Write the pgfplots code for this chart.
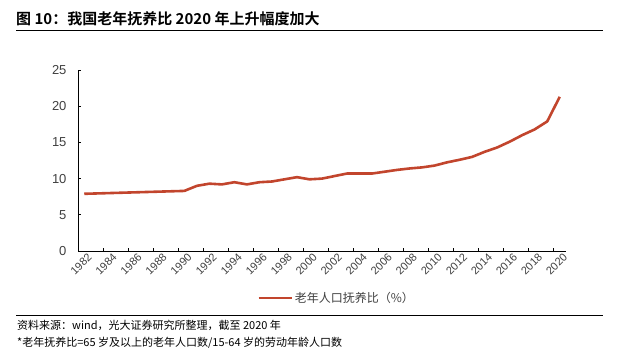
\documentclass[border=0pt]{standalone}
\usepackage{fontspec}
\usepackage{pgfplots}
\pgfplotsset{compat=1.18}
\setmainfont{Liberation Sans}
\newfontfamily\cjk[BoldFont={Noto Sans CJK SC Bold}]{Noto Sans CJK SC}
\definecolor{lineR}{HTML}{C2452D}
\definecolor{txt}{HTML}{404040}
\begin{document}
\begin{tikzpicture}[x=1pt,y=1pt]
\useasboundingbox (0,0) rectangle (640,360);
\node[anchor=west, inner sep=0pt, font=\cjk\bfseries\fontsize{15}{15}\selectfont] at (16,341) {图 10：我国老年抚养比 2020 年上升幅度加大};
\draw[line width=1pt] (16,329.5) -- (603,329.5);
\draw[line width=0.8pt] (16,45) -- (603,45);
\node[anchor=west, inner sep=0pt, font=\cjk\fontsize{11}{11}\selectfont] at (17,35) {资料来源：wind，光大证券研究所整理，截至 2020 年};
\node[anchor=west, inner sep=0pt, font=\cjk\fontsize{11}{11}\selectfont] at (17,17) {*老年抚养比=65 岁及以上的老年人口数/15-64 岁的劳动年龄人口数};
\begin{axis}[
  at={(78pt,109pt)}, anchor=south west, scale only axis,
  width=488pt, height=181pt,
  xmin=1981.5, xmax=2020.5, ymin=0, ymax=25,
  axis x line*=bottom, axis y line*=left,
  axis line style={-, black, line width=0.8pt},
  ytick={0,5,10,15,20,25},
  xtick={1982,1984,...,2020},
  xticklabels={1982,1984,1986,1988,1990,1992,1994,1996,1998,2000,2002,2004,2006,2008,2010,2012,2014,2016,2018,2020},
  minor xtick={1983.5,1985.5,...,2019.5},
  tick align=inside,
  major tick length=3pt, minor tick length=3pt,
  x tick style={draw=none},
  minor x tick style={draw=black, line width=0.8pt},
  y tick style={black, line width=0.8pt},
  /pgf/number format/assume math mode=true,
  yticklabel style={font=\fontsize{13}{13}\selectfont, text=txt, xshift=-8pt},
  xticklabel style={font=\fontsize{11}{11}\selectfont, text=txt, rotate=45, anchor=east, inner sep=1pt, yshift=-7pt, xshift=2pt},
  legend style={at={(0.367,-0.26)}, anchor=west, draw=none, inner sep=0pt, font=\cjk\fontsize{12}{12}\selectfont, text=txt, legend cell align=left},
  legend image code/.code={\draw[line width=2.6pt, lineR] (0pt,0pt) -- (33pt,0pt);},
]
\addplot[lineR, line width=2.6pt, line join=round] coordinates {
(1982,7.9) (1983,7.95) (1984,8.0) (1985,8.05) (1986,8.1) (1987,8.15) (1988,8.2) (1989,8.25) (1990,8.3)
(1991,9.0) (1992,9.3) (1993,9.2) (1994,9.5) (1995,9.2) (1996,9.5) (1997,9.6) (1998,9.9) (1999,10.2)
(2000,9.9) (2001,10.0) (2002,10.35) (2003,10.7) (2004,10.7) (2005,10.7) (2006,10.95) (2007,11.2)
(2008,11.4) (2009,11.55) (2010,11.8) (2011,12.25) (2012,12.6) (2013,13.0) (2014,13.7) (2015,14.3)
(2016,15.1) (2017,16.0) (2018,16.8) (2019,17.9) (2020,21.3)
};
\addlegendentry{老年人口抚养比（\%）}
\end{axis}
\end{tikzpicture}
\end{document}
